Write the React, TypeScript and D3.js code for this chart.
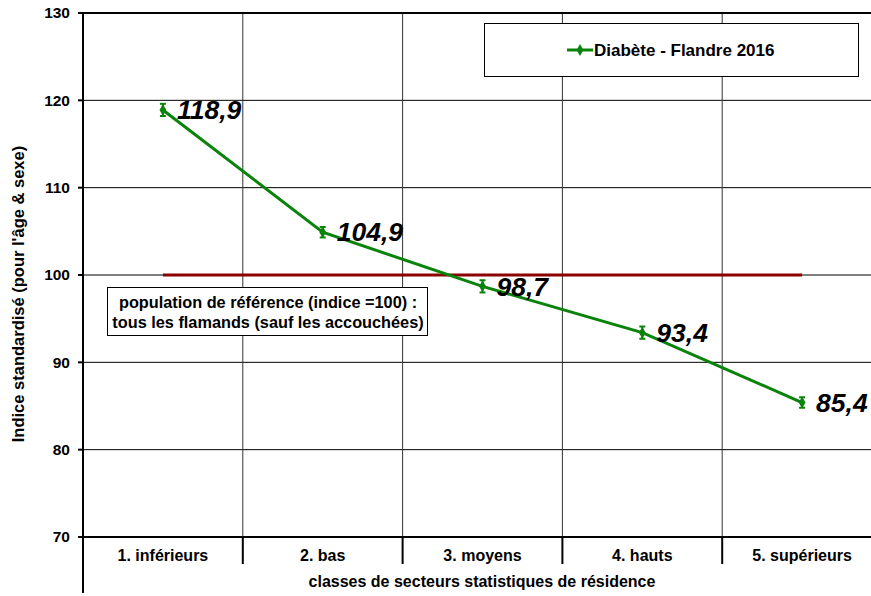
import * as d3 from 'd3'

const categories = ['1. inférieurs', '2. bas', '3. moyens', '4. hauts', '5. supérieurs']
const values = [118.9, 104.9, 98.7, 93.4, 85.4]
const errLow = [118.2, 104.3, 98.0, 92.7, 84.8]
const errHigh = [119.6, 105.5, 99.4, 94.1, 86.0]
const valueLabels = ['118,9', '104,9', '98,7', '93,4', '85,4']
const yTicks = [70, 80, 90, 100, 110, 120, 130]
const referenceValue = 100
const seriesName = 'Diabète - Flandre 2016'

const W = 871
const H = 596
const margin = { left: 83, top: 13, right: -11, bottom: 59 }
const font = 'Arial, "Liberation Sans", sans-serif'
const green = '#0a830a'

export default function App() {
  const x = d3.scaleBand<string>()
    .domain(categories)
    .range([margin.left, W - margin.right])
  const y = d3.scaleLinear()
    .domain([70, 130])
    .range([H - margin.bottom, margin.top])

  const cx = (i: number) => (x(categories[i]) ?? 0) + x.bandwidth() / 2
  const line = d3.line<number>()
    .x((_, i) => cx(i))
    .y(d => y(d))

  const bottom = y(70)
  const plotRight = W - margin.right

  return (
    <svg width={W} height={H} style={{ position: 'absolute', left: 0, top: 0, background: '#fff' }}>
      {/* horizontal grid */}
      {yTicks.filter(t => t > 70 && t < 130).map(t => (
        <line key={'h' + t} x1={margin.left} x2={plotRight} y1={y(t)} y2={y(t)} stroke="#000" strokeWidth={1} />
      ))}
      {/* vertical grid */}
      {categories.slice(1).map(c => (
        <line key={'v' + c} x1={x(c)} x2={x(c)} y1={margin.top} y2={bottom} stroke="#333" strokeWidth={1} />
      ))}
      {/* top border */}
      <line x1={margin.left} x2={plotRight} y1={y(130)} y2={y(130)} stroke="#000" strokeWidth={2} />
      {/* axes */}
      <line x1={margin.left} x2={margin.left} y1={margin.top - 1} y2={H - 3} stroke="#000" strokeWidth={2} />
      <line x1={margin.left} x2={plotRight} y1={bottom} y2={bottom} stroke="#000" strokeWidth={2} />
      {categories.slice(1).map(c => (
        <line key={'t' + c} x1={x(c)} x2={x(c)} y1={bottom} y2={bottom + 27} stroke="#000" strokeWidth={2} />
      ))}
      {yTicks.map(t => (
        <g key={'yt' + t}>
          <line x1={margin.left - 5} x2={margin.left} y1={y(t)} y2={y(t)} stroke="#000" strokeWidth={2} />
          <text x={margin.left - 13} y={y(t)} dy="0.35em" textAnchor="end" fontFamily={font} fontWeight="bold" fontSize={15.5} fill="#000">{t}</text>
        </g>
      ))}
      {categories.map((c, i) => (
        <text key={'c' + c} x={cx(i)} y={bottom + 24} textAnchor="middle" fontFamily={font} fontWeight="bold" fontSize={16} fill="#000">{c}</text>
      ))}
      <text x={482} y={587} textAnchor="middle" fontFamily={font} fontWeight="bold" fontSize={16} fill="#000">classes de secteurs statistiques de résidence</text>
      <text transform={`translate(24, ${294}) rotate(-90)`} textAnchor="middle" fontFamily={font} fontWeight="bold" fontSize={16.5} fill="#000">Indice standardisé (pour l'âge &amp; sexe)</text>

      {/* reference line */}
      <line x1={cx(0)} x2={cx(categories.length - 1)} y1={y(referenceValue)} y2={y(referenceValue)} stroke="#8b0000" strokeWidth={3} />

      {/* annotation box */}
      <rect x={107.5} y={287.5} width={320} height={48} fill="#fff" stroke="#000" strokeWidth={1} />
      <text x={268} y={308} textAnchor="middle" fontFamily={font} fontWeight="bold" fontSize={16.3} fill="#000">population de référence (indice =100) :</text>
      <text x={268} y={328} textAnchor="middle" fontFamily={font} fontWeight="bold" fontSize={16.3} fill="#000">tous les flamands (sauf les accouchées)</text>

      {/* series */}
      <path d={line(values) ?? ''} fill="none" stroke={green} strokeWidth={3} />
      {values.map((v, i) => (
        <g key={'p' + i}>
          <line x1={cx(i)} x2={cx(i)} y1={y(errLow[i])} y2={y(errHigh[i])} stroke={green} strokeWidth={2} />
          <line x1={cx(i) - 3} x2={cx(i) + 3} y1={y(errLow[i])} y2={y(errLow[i])} stroke={green} strokeWidth={2} />
          <line x1={cx(i) - 3} x2={cx(i) + 3} y1={y(errHigh[i])} y2={y(errHigh[i])} stroke={green} strokeWidth={2} />
          <path d={d3.symbol(d3.symbolDiamond, 40)() ?? ''} transform={`translate(${cx(i)},${y(v)})`} fill={green} />
          <text x={cx(i) + 14} y={y(v)} dy="0.35em" fontFamily={font} fontWeight="bold" fontStyle="italic" fontSize={26.5} fill="#000">{valueLabels[i]}</text>
        </g>
      ))}

      {/* legend */}
      <rect x={484.5} y={23.5} width={374} height={53} fill="#fff" stroke="#000" strokeWidth={1} />
      <line x1={567} x2={593} y1={50} y2={50} stroke={green} strokeWidth={3} />
      <path d={d3.symbol(d3.symbolDiamond, 40)() ?? ''} transform="translate(580,50)" fill={green} />
      <text x={594} y={50} dy="0.35em" fontFamily={font} fontWeight="bold" fontSize={17} fill="#000">{seriesName}</text>
    </svg>
  )
}
